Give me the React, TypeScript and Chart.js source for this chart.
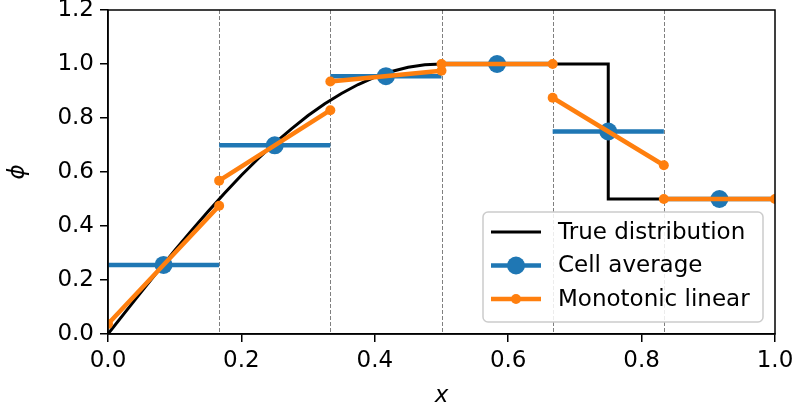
import React, { useEffect, useRef } from "react";
import { Chart, registerables } from "chart.js";

Chart.register(...registerables);

// Cell boundaries of the 6-cell grid
const cellEdges = [0, 1 / 6, 2 / 6, 3 / 6, 4 / 6, 5 / 6, 1];
const cellCenters = [1 / 12, 3 / 12, 5 / 12, 7 / 12, 9 / 12, 11 / 12];

// Exact profile sampled along x
const trueX = [
  0, 0.025, 0.05, 0.075, 0.1, 0.125, 0.15, 0.175, 0.2, 0.225, 0.25, 0.275, 0.3, 0.325, 0.35,
  0.375, 0.4, 0.425, 0.45, 0.475, 0.5, 0.75, 0.75, 1.0,
];
const trueY = [
  0, 0.078, 0.156, 0.233, 0.309, 0.383, 0.454, 0.522, 0.588, 0.649, 0.707, 0.760, 0.809, 0.853,
  0.891, 0.924, 0.951, 0.972, 0.988, 0.997, 1.0, 1.0, 0.5, 0.5,
];

// Cell-averaged values
const cellAverage = [0.256, 0.699, 0.955, 1.0, 0.75, 0.5];

// Reconstructed values at the left and right face of every cell
const reconLeft = [0.037, 0.568, 0.935, 1.0, 0.875, 0.5];
const reconRight = [0.475, 0.829, 0.975, 1.0, 0.625, 0.5];

const xTicks = [0, 0.2, 0.4, 0.6, 0.8, 1.0];
const yTicks = [0, 0.2, 0.4, 0.6, 0.8, 1.0, 1.2];

const BLUE = "#1f77b4";
const ORANGE = "#ff7f0e";
const FONT = "'DejaVu Sans', sans-serif";
const FS = 23;

const W = 796;
const H = 414;
const AREA = { left: 108, top: 10, right: 775, bottom: 334 };

type Pt = { x: number; y: number | null };

function buildCellAverage(): { pts: Pt[]; radii: number[] } {
  const pts: Pt[] = [];
  const radii: number[] = [];
  cellAverage.forEach((v, i) => {
    pts.push({ x: cellEdges[i], y: v }, { x: cellCenters[i], y: v }, { x: cellEdges[i + 1], y: v });
    radii.push(0, 9, 0);
    if (i < cellAverage.length - 1) {
      pts.push({ x: cellEdges[i + 1], y: null });
      radii.push(0);
    }
  });
  return { pts, radii };
}

function buildRecon(): { pts: Pt[]; radii: number[] } {
  const pts: Pt[] = [];
  const radii: number[] = [];
  reconLeft.forEach((v, i) => {
    pts.push({ x: cellEdges[i], y: v }, { x: cellEdges[i + 1], y: reconRight[i] });
    radii.push(5, 5);
    if (i < reconLeft.length - 1) {
      pts.push({ x: cellEdges[i + 1], y: null });
      radii.push(0);
    }
  });
  return { pts, radii };
}

const frameAndGuides = {
  id: "frameAndGuides",
  beforeDatasetsDraw(chart: any) {
    const { ctx, chartArea, scales } = chart;
    ctx.save();
    ctx.strokeStyle = "#808080";
    ctx.lineWidth = 1;
    ctx.setLineDash([4, 2]);
    for (let i = 1; i < cellEdges.length - 1; i++) {
      const px = Math.round(scales.x.getPixelForValue(cellEdges[i])) + 0.5;
      ctx.beginPath();
      ctx.moveTo(px, chartArea.top);
      ctx.lineTo(px, chartArea.bottom);
      ctx.stroke();
    }
    ctx.restore();
  },
  afterDatasetsDraw(chart: any) {
    const { ctx, chartArea } = chart;
    ctx.save();
    ctx.strokeStyle = "#000";
    ctx.lineWidth = 1.5;
    ctx.strokeRect(chartArea.left, chartArea.top, chartArea.right - chartArea.left, chartArea.bottom - chartArea.top);
    ctx.restore();
  },
};

const legendEntries = [
  { label: "True distribution", color: "#000000", width: 3, marker: 0 },
  { label: "Cell average", color: BLUE, width: 4.5, marker: 9 },
  { label: "Monotonic linear", color: ORANGE, width: 4.5, marker: 5 },
];

const insetLegend = {
  id: "insetLegend",
  afterDraw(chart: any) {
    const { ctx, chartArea } = chart;
    const boxW = 280;
    const boxH = 110;
    const x0 = chartArea.right - 12 - boxW;
    const y0 = chartArea.bottom - 12 - boxH;
    ctx.save();
    ctx.beginPath();
    (ctx as any).roundRect(x0, y0, boxW, boxH, 5);
    ctx.fillStyle = "rgba(255,255,255,0.85)";
    ctx.fill();
    ctx.strokeStyle = "#cccccc";
    ctx.lineWidth = 1.5;
    ctx.stroke();
    ctx.font = `${FS}px ${FONT}`;
    ctx.textBaseline = "middle";
    legendEntries.forEach((e, i) => {
      const cy = y0 + 20 + i * 33.5;
      ctx.strokeStyle = e.color;
      ctx.lineWidth = e.width;
      ctx.beginPath();
      ctx.moveTo(x0 + 8, cy);
      ctx.lineTo(x0 + 58, cy);
      ctx.stroke();
      if (e.marker) {
        ctx.fillStyle = e.color;
        ctx.beginPath();
        ctx.arc(x0 + 33, cy, e.marker, 0, Math.PI * 2);
        ctx.fill();
      }
      ctx.fillStyle = "#000";
      ctx.fillText(e.label, x0 + 75, cy + 1);
    });
    ctx.restore();
  },
};

export default function App() {
  const canvasRef = useRef<HTMLCanvasElement | null>(null);

  useEffect(() => {
    if (!canvasRef.current) return;
    const avg = buildCellAverage();
    const recon = buildRecon();
    const chart = new Chart(canvasRef.current, {
      type: "line",
      data: {
        datasets: [
          {
            label: "True distribution",
            data: trueX.map((x, i) => ({ x, y: trueY[i] })),
            borderColor: "#000",
            borderWidth: 3,
            pointRadius: 0,
            tension: 0,
            order: 3,
          },
          {
            label: "Cell average",
            data: avg.pts as any,
            borderColor: BLUE,
            backgroundColor: BLUE,
            borderWidth: 4.5,
            pointRadius: avg.radii,
            pointBorderWidth: 0,
            spanGaps: false,
            order: 2,
          },
          {
            label: "Monotonic linear",
            data: recon.pts as any,
            borderColor: ORANGE,
            backgroundColor: ORANGE,
            borderWidth: 4.5,
            pointRadius: recon.radii,
            pointBorderWidth: 0,
            spanGaps: false,
            order: 1,
          },
        ],
      },
      options: {
        animation: false,
        responsive: false,
        maintainAspectRatio: false,
        layout: { padding: { left: 0, top: AREA.top, right: W - AREA.right, bottom: 0 } },
        plugins: { legend: { display: false }, tooltip: { enabled: false } },
        scales: {
          x: {
            type: "linear",
            min: 0,
            max: 1,
            afterBuildTicks: (s: any) => {
              s.ticks = xTicks.map((v) => ({ value: v }));
            },
            afterFit: (s: any) => {
              s.height = H - AREA.bottom;
              s.paddingLeft = 0;
              s.paddingRight = 0;
            },
            ticks: {
              color: "#000",
              font: { family: FONT, size: FS },
              padding: 5,
              maxRotation: 0,
              callback: (v: any) => Number(v).toFixed(1),
            },
            grid: { drawOnChartArea: false, drawTicks: true, tickLength: 8, color: "#000", lineWidth: 1.5 },
            border: { display: true, color: "#000", width: 1.5 },
            title: {
              display: true,
              text: "x",
              color: "#000",
              font: { family: FONT, size: FS, style: "italic" },
              padding: { top: 2 },
            },
          },
          y: {
            type: "linear",
            min: 0,
            max: 1.2,
            afterBuildTicks: (s: any) => {
              s.ticks = yTicks.map((v) => ({ value: v }));
            },
            afterFit: (s: any) => {
              s.width = AREA.left;
              s.paddingTop = 0;
              s.paddingBottom = 0;
            },
            ticks: {
              color: "#000",
              font: { family: FONT, size: FS },
              padding: 6,
              callback: (v: any) => Number(v).toFixed(1),
            },
            grid: { drawOnChartArea: false, drawTicks: true, tickLength: 8, color: "#000", lineWidth: 1.5 },
            border: { display: true, color: "#000", width: 1.5 },
            title: {
              display: true,
              text: "ϕ",
              color: "#000",
              font: { family: FONT, size: FS, style: "italic" },
              padding: { bottom: 6 },
            },
          },
        },
      },
      plugins: [frameAndGuides, insetLegend],
    });
    return () => chart.destroy();
  }, []);

  return (
    <div style={{ position: "fixed", left: 0, top: 0, width: W, height: H, background: "#fff" }}>
      <canvas ref={canvasRef} width={W} height={H} style={{ width: W, height: H, display: "block" }} />
    </div>
  );
}
